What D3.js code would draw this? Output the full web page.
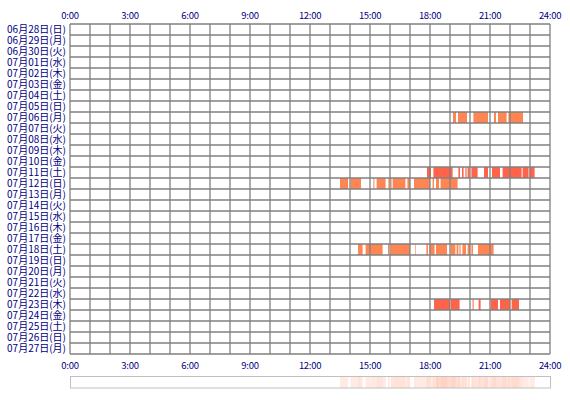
<!DOCTYPE html>
<html><head><meta charset="utf-8">
<script src="https://cdn.jsdelivr.net/npm/d3@7"></script>
<style>
html,body{margin:0;padding:0;background:#fff;}
svg{display:block;}
text{font-family:"Noto Sans CJK JP","DejaVu Sans",sans-serif;}
</style></head>
<body><svg id="c" width="570" height="400"></svg>
<script>
const days = ["06月28日(日)","06月29日(月)","06月30日(火)","07月01日(水)","07月02日(木)","07月03日(金)","07月04日(土)","07月05日(日)","07月06日(月)","07月07日(火)","07月08日(水)","07月09日(木)","07月10日(金)","07月11日(土)","07月12日(日)","07月13日(月)","07月14日(火)","07月15日(水)","07月16日(木)","07月17日(金)","07月18日(土)","07月19日(日)","07月20日(月)","07月21日(火)","07月22日(水)","07月23日(木)","07月24日(金)","07月25日(土)","07月26日(日)","07月27日(月)"];
const hourTicks = [0,3,6,9,12,15,18,21,24];
const hourLabels = ["0:00","3:00","6:00","9:00","12:00","15:00","18:00","21:00","24:00"];
// activity segments [start hour, end hour]
const seg0706 = [[19.15,19.3],[19.4,19.85],[20.17,20.9],[21.2,21.3],[21.4,21.83],[21.92,22.65]];
const seg0711 = [[17.85,18.05],[18.17,19.13],[19.42,19.5],[19.6,19.68],[19.77,19.83],[19.88,19.98],[20.07,20.38],[20.7,20.9],[21.1,21.5],[21.63,22.58],[22.63,22.93],[22.98,23.23]];
const seg0712 = [[13.5,13.9],[14.03,14.55],[15.17,15.22],[15.33,15.78],[15.92,15.97],[16.03,16.08],[16.13,16.77],[16.87,17.0],[17.2,18.0],[18.13,18.2],[18.3,18.45],[18.53,19.38]];
const seg0718 = [[14.4,14.63],[14.78,15.63],[15.9,15.95],[16.03,17.0],[17.27,17.3],[17.82,17.9],[17.97,18.23],[18.3,18.85],[19.03,19.27],[19.33,19.42],[19.47,19.53],[19.62,19.8],[19.88,20.0],[20.07,20.15],[20.4,21.18]];
const seg0723 = [[18.2,19.0],[19.05,19.48],[20.13,20.18],[20.43,20.53],[21.03,21.4],[21.5,22.0],[22.08,22.45]];
const activity = [
  {day:"07月06日(月)", segs:seg0706},
  {day:"07月11日(土)", segs:seg0711},
  {day:"07月12日(日)", segs:seg0712},
  {day:"07月18日(土)", segs:seg0718},
  {day:"07月23日(木)", segs:seg0723}
];
const dayColor = {"07月06日(月)":"#ff8552","07月11日(土)":"#ff6349","07月12日(日)":"#ff8552","07月18日(土)":"#ff8552","07月23日(木)":"#ff6349"};

const svg = d3.select("#c");
const x = d3.scaleLinear().domain([0,24]).range([70,550]);
const y = d3.scaleBand().domain(days).range([24,354]);
const navy = "#000080";

// bars
const bars = [];
activity.forEach(a => a.segs.forEach(s => bars.push({day:a.day, s:s[0], e:s[1]})));
svg.append("g").selectAll("rect").data(bars).join("rect")
  .attr("x", d => x(d.s)).attr("width", d => x(d.e) - x(d.s))
  .attr("y", d => y(d.day)).attr("height", y.bandwidth())
  .attr("fill", d => dayColor[d.day]);

// grid
const grid = svg.append("g").attr("stroke","#808080").attr("stroke-width",1.3);
grid.selectAll(".v").data(d3.range(0,25)).join("line")
  .attr("x1", d => x(d)).attr("x2", d => x(d)).attr("y1", 24).attr("y2", 354);
grid.selectAll(".h").data(d3.range(0, days.length + 1)).join("line")
  .attr("x1", 70).attr("x2", 550)
  .attr("y1", i => 24 + i * y.step()).attr("y2", i => 24 + i * y.step());

// day labels
svg.append("g").selectAll("text").data(days).join("text")
  .attr("x", 66).attr("y", d => y(d) + y.bandwidth()/2 + 3.6)
  .attr("text-anchor","end").attr("font-size", 10).attr("fill", navy)
  .text(d => d);

// hour labels top and bottom
[15, 365].forEach(yy => {
  svg.append("g").selectAll("text").data(hourTicks).join("text")
    .attr("x", d => x(d)).attr("y", yy + 3.6)
    .attr("text-anchor","middle").attr("font-size", 9.5).attr("fill", navy)
    .attr("letter-spacing", -0.3)
    .text((d,i) => hourLabels[i]);
});

// summary strip
const binsPerHour = 60;
const counts = new Array(24*binsPerHour).fill(0);
bars.forEach(b => {
  for (let i = Math.round(b.s*binsPerHour); i < Math.round(b.e*binsPerHour); i++) counts[i]++;
});
const maxC = d3.max(counts);
const stripColor = c => d3.interpolateRgb("#ffffff", "#ff7f50")(0.2 + 0.25 * (c - 1) / (maxC - 1));
const strip = svg.append("g");
strip.selectAll("rect").data(counts.map((c,i)=>({c,i})).filter(d=>d.c>0)).join("rect")
  .attr("x", d => x(d.i/binsPerHour)).attr("width", x(1/binsPerHour) - x(0) + 0.05)
  .attr("y", 376).attr("height", 12)
  .attr("fill", d => stripColor(d.c));
svg.append("rect").attr("x", 70.5).attr("y", 376.5).attr("width", 480).attr("height", 11.5)
  .attr("fill","none").attr("stroke","#c0c0c0").attr("stroke-width",1);
</script></body></html>
